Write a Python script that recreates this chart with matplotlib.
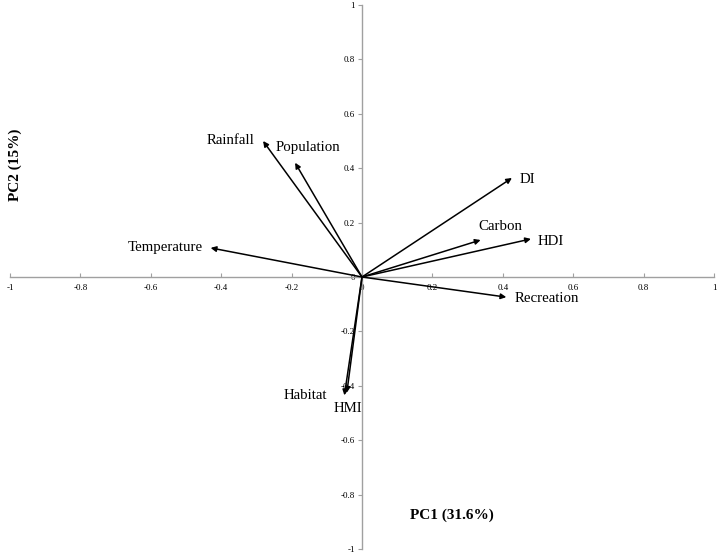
import numpy as np
import matplotlib.pyplot as plt

plt.rcParams['font.family'] = ['Liberation Serif', 'DejaVu Serif']

# PCA loadings (PC1, PC2)
variables = ["Rainfall", "Population", "Temperature", "DI", "Carbon", "HDI",
             "Recreation", "Habitat", "HMI"]
pc1 = [-0.281, -0.19, -0.43, 0.426, 0.337, 0.48, 0.41, -0.05, -0.043]
pc2 = [0.50, 0.42, 0.107, 0.364, 0.136, 0.14, -0.074, -0.435, -0.425]

# label positions
lab_x = [-0.372, -0.153, -0.56, 0.469, 0.392, 0.537, 0.526, -0.162, -0.04]
lab_y = [0.50, 0.475, 0.107, 0.36, 0.184, 0.132, -0.08, -0.434, -0.485]

ticks = [-1, -0.8, -0.6, -0.4, -0.2, 0, 0.2, 0.4, 0.6, 0.8, 1]
tick_labels = ["-1", "-0.8", "-0.6", "-0.4", "-0.2", "0", "0.2", "0.4", "0.6", "0.8", "1"]

fig = plt.figure(figsize=(7.19, 5.55), dpi=100)
ax = fig.add_axes([0.0139, 0.0108, 0.9791, 0.9802])
ax.set_xlim(-1, 1)
ax.set_ylim(-1, 1)

for s in ['top', 'right']:
    ax.spines[s].set_visible(False)
ax.spines['left'].set_position(('data', 0))
ax.spines['bottom'].set_position(('data', 0))
for s in ['left', 'bottom']:
    ax.spines[s].set_color('#a0a0a0')
    ax.spines[s].set_linewidth(1.0)

ax.set_xticks(ticks)
ax.set_xticklabels(tick_labels)
ax.set_yticks(ticks)
ax.set_yticklabels(tick_labels)
ax.tick_params(axis='x', direction='in', length=3, color='#a0a0a0', labelsize=6.5, pad=5)
ax.tick_params(axis='y', direction='out', length=3, color='#a0a0a0', labelsize=6.5, pad=2)

for i in range(len(variables)):
    ax.annotate("", xy=(pc1[i], pc2[i]), xytext=(0, 0),
                arrowprops=dict(arrowstyle='-|>', color='black', lw=1.1,
                                mutation_scale=8, shrinkA=0, shrinkB=0))
    ax.text(lab_x[i], lab_y[i], variables[i], fontsize=10.7, ha='center', va='center')

fig.text(452 / 719, 1 - 515 / 555, "PC1 (31.6%)", fontsize=11, fontweight='bold',
         ha='center', va='center')
fig.text(15 / 719, 1 - 165 / 555, "PC2 (15%)", fontsize=11, fontweight='bold',
         ha='center', va='center', rotation=90)

plt.savefig('out.png', dpi=100)
